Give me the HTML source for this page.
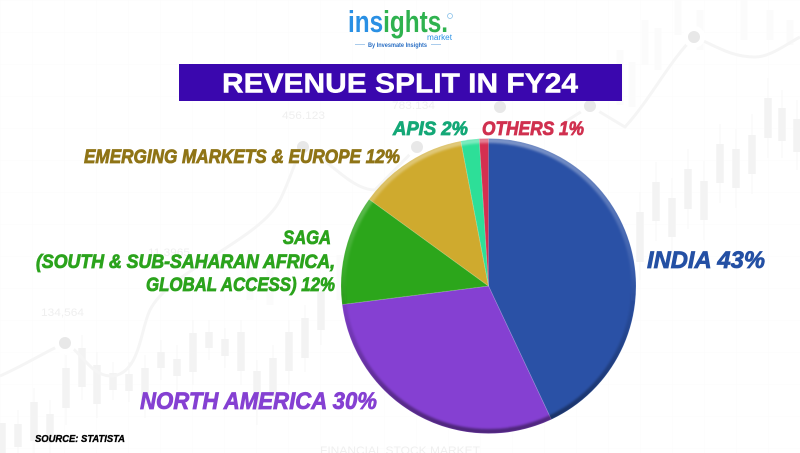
<!DOCTYPE html>
<html lang="en">
<head>
<meta charset="utf-8">
<title>Revenue Split in FY24</title>
<style>
html,body{margin:0;padding:0;background:#fff;width:800px;height:453px;overflow:hidden}
svg{display:block;font-family:"Liberation Sans",sans-serif}
.lbl{font-weight:700;font-style:italic;stroke-width:.8px;paint-order:stroke}
</style>
</head>
<body>
<svg id="chart" width="800" height="453" viewBox="0 0 800 453" xmlns="http://www.w3.org/2000/svg">
<defs>
<pattern id="gridPat" width="32" height="32" patternUnits="userSpaceOnUse"><path d="M32 0H0V32" fill="none" stroke="#fbfbfb" stroke-width="1"/></pattern>
<linearGradient id="bevel" x1="0" y1="0" x2="0" y2="1">
<stop offset="0" stop-color="#fff" stop-opacity=".38"/>
<stop offset=".42" stop-color="#fff" stop-opacity=".08"/>
<stop offset=".58" stop-color="#000" stop-opacity=".08"/>
<stop offset="1" stop-color="#000" stop-opacity=".42"/>
</linearGradient>
<filter id="soft" x="-5%" y="-5%" width="110%" height="110%"><feGaussianBlur stdDeviation="1"/></filter>
<clipPath id="pieClip"><circle cx="488.500" cy="286" r="147.500"/></clipPath>
</defs>

<g>
<rect width="800" height="453" fill="url(#gridPat)"/>
<path fill="none" stroke="#f7f7f7" stroke-width="1" d="M66 355V425M82 335V400M97 352V418M113 362V400M129 362V402M145 355V418M161 340V380M177 345V390M193 320V385M209 320V360M225 328V368M241 320V385M257 360V425M273 345V410M289 320V385M305 305V372M321 280V345M34 388V453M50 400V453M18 410V453M640 192V280M656 162V241M672 178V257M688 149V229M704 161V240M720 124V203M736 129V208M752 114V194M768 78V158M782 90V158M797 100V170"/>
<path fill="none" stroke="#f3f3f3" stroke-width="7.500" d="M66 368V408M82 348V387M97 365V404M113 373V390M129 374V391M145 368V404M161 352V368M177 359V376M193 333V372M209 332V348M225 339V356M241 332V371M257 371V410M273 358V397M289 332V371M305 318V358M321 292V330M2 423V453M18 424V447M34 402V441M50 414V443M640 212V262M656 182V221M672 198V237M688 169V209M704 181V220M720 144V183M736 149V188M752 135V174M768 98V138M782 108V141M797 119V152"/>
<path fill="none" stroke="#fbfbfb" stroke-width="7" d="M645 20V65M658 28V70M620 50V105M632 62V107M678 0V35M700 10V50M744 0V40M770 10V40M790 20V45M340 255V300M355 240V290M250 250V300M270 260V305"/>
<path fill="none" stroke="#f5f5f5" stroke-width="3" d="M0 376C25 365 45 352 65 343C80 350 90 375 110 376C140 376 140 330 150 310C170 270 260 240 280 200C290 180 295 160 303 147C325 155 350 190 375 190L417 147"/>
<path fill="none" stroke="#f5f5f5" stroke-width="3" d="M565 122L590 106L625 127C650 100 670 60 694 37C715 45 730 57 755 57C770 57 785 45 800 37"/>
<g fill="#e8e8e8" stroke="#fff" stroke-width="5">
<circle cx="65" cy="343" r="8.500"/><circle cx="303" cy="147" r="8.500"/><circle cx="417" cy="147" r="8.500"/><circle cx="500" cy="107" r="8.500"/><circle cx="590" cy="106" r="8.500"/><circle cx="694" cy="37" r="8.500"/>
</g>
<g fill="#efefef" font-size="11">
<text x="282" y="119" textLength="43" lengthAdjust="spacingAndGlyphs">456.123</text>
<text x="392" y="109" textLength="43" lengthAdjust="spacingAndGlyphs">783.134</text>
<text x="148" y="256" textLength="42" lengthAdjust="spacingAndGlyphs">11.3965</text>
<text x="41" y="316" textLength="43" lengthAdjust="spacingAndGlyphs">134,564</text>
<text x="320" y="454" textLength="160" lengthAdjust="spacingAndGlyphs">FINANCIAL STOCK MARKET</text>
</g>
</g>

<g>
<text x="348" y="32" font-size="31" font-weight="700" textLength="100" lengthAdjust="spacingAndGlyphs"><tspan fill="#2a90e4">ins</tspan><tspan fill="#2fb24f">ights.</tspan></text>
<circle cx="450" cy="16" r="2.500" fill="none" stroke="#7fbce8" stroke-width=".7"/>
<text x="427" y="40" font-size="8" fill="#2a90e4" textLength="25" lengthAdjust="spacingAndGlyphs">market</text>
<text x="368" y="47" font-size="6.500" font-weight="700" fill="#2a6fc4" textLength="59" lengthAdjust="spacingAndGlyphs">By Invesmate Insights</text>
<path d="M355 44.500H365M431 44.500H441" stroke="#8fbce6" stroke-width=".8"/>
</g>

<rect x="179" y="64" width="443" height="37" fill="#3a07ae"/>
<text x="222" y="92.500" font-size="27.500" font-weight="700" fill="#fff" stroke="#fff" stroke-width=".4" textLength="356" lengthAdjust="spacingAndGlyphs">REVENUE SPLIT IN FY24</text>

<g id="pie"></g>
<g clip-path="url(#pieClip)">
<circle cx="488.500" cy="286" r="145.500" fill="none" stroke="url(#bevel)" stroke-width="5" filter="url(#soft)"/>
</g>

<g>
<text id="lbl-0" class="lbl" x="647" y="268" font-size="24" fill="#2450a4" stroke="#2450a4" textLength="118" lengthAdjust="spacingAndGlyphs"></text>
<text id="lbl-1" class="lbl" x="140" y="409" font-size="24" fill="#8540d2" stroke="#8540d2" textLength="237" lengthAdjust="spacingAndGlyphs"></text>
<text class="lbl" x="283" y="244" font-size="19" fill="#2ba31c" stroke="#2ba31c" textLength="48" lengthAdjust="spacingAndGlyphs">SAGA</text>
<text class="lbl" x="36" y="268" font-size="19" fill="#2ba31c" stroke="#2ba31c" textLength="299" lengthAdjust="spacingAndGlyphs">(SOUTH &amp; SUB-SAHARAN AFRICA,</text>
<text id="lbl-2" class="lbl" x="146" y="291" font-size="19" fill="#2ba31c" stroke="#2ba31c" textLength="189" lengthAdjust="spacingAndGlyphs"></text>
<text id="lbl-3" class="lbl" x="84" y="163" font-size="19" fill="#8f7416" stroke="#8f7416" textLength="316" lengthAdjust="spacingAndGlyphs"></text>
<text id="lbl-4" class="lbl" x="393" y="135" font-size="19" fill="#14a877" stroke="#14a877" textLength="75" lengthAdjust="spacingAndGlyphs"></text>
<text id="lbl-5" class="lbl" x="482" y="135" font-size="19" fill="#d0304f" stroke="#d0304f" textLength="102" lengthAdjust="spacingAndGlyphs"></text>
</g>

<text x="35" y="442" font-size="10.500" font-weight="700" font-style="italic" fill="#000" stroke="#000" stroke-width=".35" textLength="90" lengthAdjust="spacingAndGlyphs">SOURCE: STATISTA</text>

<script>
var categories = ['India', 'North America', 'SAGA', 'Emerging Markets & Europe', 'APIs', 'Others'];
var shares = [43, 30, 12, 12, 2, 1];
var labelPrefixes = ['INDIA ', 'NORTH AMERICA ', 'GLOBAL ACCESS) ', 'EMERGING MARKETS & EUROPE ', 'APIS ', 'OTHERS '];
var sliceColors = ['#2a51a6', '#8540d2', '#2ca61b', '#cfaa2e', '#2ddf98', '#d42f50'];

var cx = 488.5, cy = 286, radius = 147.5;
function shareTotal() {
  var sum = 0;
  for (var i = 0; i < shares.length; i++) { sum += shares[i]; }
  return sum;
}
function angleOf(cumulative) {
  return cumulative / shareTotal() * 2 * Math.PI;
}
function pointAt(angle) {
  return [cx + radius * Math.sin(angle), cy - radius * Math.cos(angle)];
}
var pie = document.getElementById('pie');
var running = 0;
for (var i = 0; i < shares.length; i++) {
  var a0 = angleOf(running);
  running += shares[i];
  var a1 = angleOf(running);
  var p0 = pointAt(a0), p1 = pointAt(a1);
  var large = a1 - a0 > Math.PI ? 1 : 0;
  var el = document.createElementNS('http://www.w3.org/2000/svg', 'path');
  el.setAttribute('d', 'M' + cx + ' ' + cy + 'L' + p0[0] + ' ' + p0[1] + 'A' + radius + ' ' + radius + ' 0 ' + large + ' 1 ' + p1[0] + ' ' + p1[1] + 'Z');
  el.setAttribute('fill', sliceColors[i]);
  el.setAttribute('stroke', 'rgba(255,255,255,.18)');
  el.setAttribute('stroke-width', '.8');
  
  
  pie.appendChild(el);
  document.getElementById('lbl-' + i).textContent = labelPrefixes[i] + shares[i] + '%';
}
</script>
</svg>
</body>
</html>
